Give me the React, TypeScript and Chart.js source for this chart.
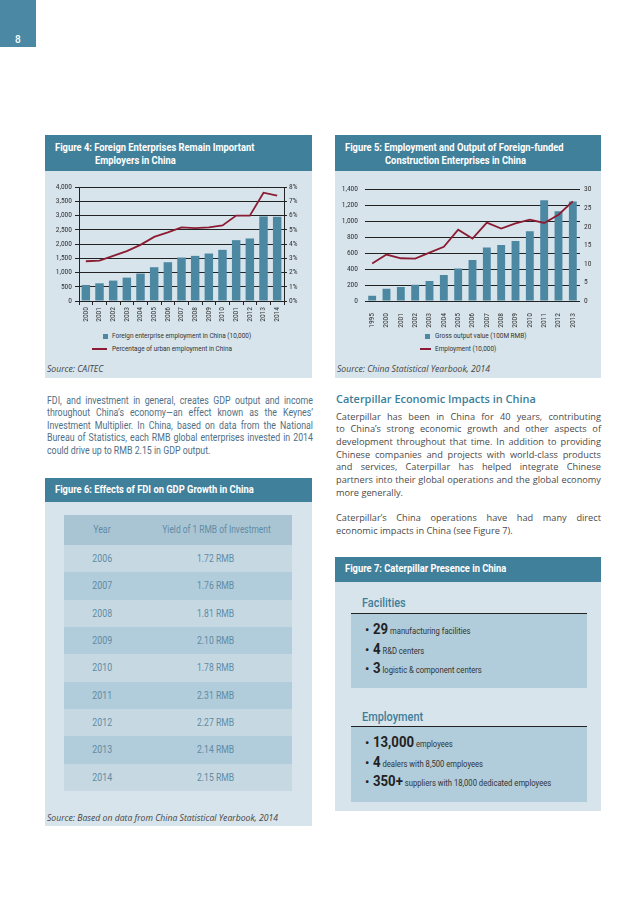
import React, { useEffect, useRef } from "react";
import { Chart, registerables } from "chart.js";
Chart.register(...registerables);

// ---------- DATA ----------
const fig4Years = ["2000", "2001", "2002", "2003", "2004", "2005", "2006", "2007", "2008", "2009", "2010", "2001", "2012", "2013", "2014"];
const fig4Employment = [563, 621, 716, 821, 962, 1185, 1361, 1525, 1584, 1666, 1795, 2135, 2194, 2968, 2956];
const fig4UrbanPct = [2.79, 2.84, 3.17, 3.5, 3.94, 4.5, 4.81, 5.16, 5.12, 5.16, 5.3, 5.99, 5.99, 7.6, 7.39];

const fig5Years = ["1995", "2000", "2001", "2002", "2003", "2004", "2005", "2006", "2007", "2008", "2009", "2010", "2011", "2012", "2013"];
const fig5Output = [65, 155, 176, 205, 250, 327, 409, 516, 671, 704, 753, 876, 1265, 1126, 1248];
const fig5Employment = [10.1, 12.5, 11.5, 11.4, 13.0, 14.6, 19.2, 16.8, 21.1, 19.5, 20.9, 21.9, 21.0, 23.2, 26.8];

const fig6Years = ["2006", "2007", "2008", "2009", "2010", "2011", "2012", "2013", "2014"];
const fig6Yield = ["1.72 RMB", "1.76 RMB", "1.81 RMB", "2.10 RMB", "1.78 RMB", "2.31 RMB", "2.27 RMB", "2.14 RMB", "2.15 RMB"];

// ---------- STYLE ----------
const HEADER = "#41809b";
const BOX = "#d7e4eb";
const BAR = "#4d88a3";
const RED = "#8c1c33";
const AXIS = "#222";
const TICKFONT = { family: "'Liberation Sans Narrow', 'Roboto Condensed', Roboto, sans-serif", size: 7.5 };
const TICKCOLOR = "#333";

const fmt = (v: any) => Number(v).toLocaleString("en-US");

function fig4Config(): any {
  return {
    type: "bar",
    data: {
      labels: fig4Years,
      datasets: [
        { type: "line", data: fig4UrbanPct, yAxisID: "y1", borderColor: RED, borderWidth: 1.8, pointRadius: 0, tension: 0, order: 1 },
        { type: "bar", data: fig4Employment, yAxisID: "y", backgroundColor: BAR, barPercentage: 0.62, categoryPercentage: 1, order: 2 },
      ],
    },
    options: {
      responsive: false,
      animation: false,
      layout: { padding: { top: 9, left: 0, right: 0, bottom: 0 } },
      plugins: { legend: { display: false }, tooltip: { enabled: false } },
      scales: {
        x: {
          grid: { drawOnChartArea: false, drawTicks: true, tickLength: 4, color: AXIS },
          border: { display: true, color: AXIS },
          ticks: { minRotation: 90, maxRotation: 90, autoSkip: false, padding: 2, font: TICKFONT, color: TICKCOLOR },
          afterFit: (s: any) => { s.height = 27; },
        },
        y: {
          position: "left",
          min: 0, max: 4000,
          ticks: { stepSize: 500, padding: 3, font: TICKFONT, color: TICKCOLOR, callback: fmt },
          grid: { color: AXIS, tickLength: 4 },
          border: { display: true, color: AXIS },
          afterFit: (s: any) => { s.width = 34; },
        },
        y1: {
          position: "right",
          min: 0, max: 8,
          ticks: { stepSize: 1, padding: 2, font: TICKFONT, color: TICKCOLOR, callback: (v: any) => v + "%" },
          grid: { drawOnChartArea: false, tickLength: 3, color: AXIS },
          border: { display: true, color: AXIS },
          afterFit: (s: any) => { s.width = 28; },
        },
      },
    },
  };
}

function fig5Config(): any {
  return {
    type: "bar",
    data: {
      labels: fig5Years,
      datasets: [
        { type: "line", data: fig5Employment, yAxisID: "y1", borderColor: RED, borderWidth: 1.8, pointRadius: 0, tension: 0, order: 1 },
        { type: "bar", data: fig5Output, yAxisID: "y", backgroundColor: BAR, barPercentage: 0.55, categoryPercentage: 1, order: 2 },
      ],
    },
    options: {
      responsive: false,
      animation: false,
      layout: { padding: { top: 9, left: 0, right: 0, bottom: 0 } },
      plugins: { legend: { display: false }, tooltip: { enabled: false } },
      scales: {
        x: {
          grid: { display: false },
          border: { display: false },
          ticks: { minRotation: 90, maxRotation: 90, autoSkip: false, padding: 4, font: TICKFONT, color: TICKCOLOR },
          afterFit: (s: any) => { s.height = 27; },
        },
        y: {
          position: "left",
          min: 0, max: 1400,
          ticks: { stepSize: 200, padding: 7, font: TICKFONT, color: TICKCOLOR, callback: fmt },
          grid: { color: AXIS, drawTicks: false },
          border: { display: false },
          afterFit: (s: any) => { s.width = 30; },
        },
        y1: {
          position: "right",
          min: 0, max: 30,
          ticks: { stepSize: 5, padding: 4, font: TICKFONT, color: TICKCOLOR },
          grid: { drawOnChartArea: false, drawTicks: false },
          border: { display: false },
          afterFit: (s: any) => { s.width = 21; },
        },
      },
    },
  };
}

function ChartBox({ make, left, top, width, height }: any) {
  const ref = useRef<HTMLCanvasElement>(null);
  useEffect(() => {
    const c = new Chart(ref.current as HTMLCanvasElement, make());
    return () => c.destroy();
  }, []);
  return (
    <div style={{ position: "absolute", left, top, width, height }}>
      <canvas ref={ref} width={width} height={height} style={{ width, height, display: "block" }} />
    </div>
  );
}

// text helper: y is vertical centre
function T({ x, y, size, sx = 1, color = "#333", weight = 400, italic = false, family = "Roboto, sans-serif", children, lh }: any) {
  const lineH = lh || Math.round(size * 1.25);
  return (
    <div
      style={{
        position: "absolute",
        left: x,
        top: y - lineH / 2,
        fontSize: size,
        lineHeight: lineH + "px",
        color,
        fontWeight: weight,
        fontStyle: italic ? "italic" : "normal",
        fontFamily: family,
        whiteSpace: "nowrap",
        transform: `scaleX(${sx})`,
        transformOrigin: "0 0",
      }}
    >
      {children}
    </div>
  );
}

function Para({ x, y, w, lh, size, sx, color, family, lines, lastJustify = [] }: any) {
  return (
    <div style={{ position: "absolute", left: x, top: y, width: w / sx, transform: `scaleX(${sx})`, transformOrigin: "0 0", fontSize: size, lineHeight: lh + "px", color, fontFamily: family }}>
      {lines.map((l: string, i: number) =>
        l === "" ? (
          <div key={i} style={{ height: lh }} />
        ) : (
          <div key={i} style={{ textAlign: lastJustify[i] ? "justify" : "left", textAlignLast: lastJustify[i] ? "justify" : "left", whiteSpace: lastJustify[i] ? "normal" : "nowrap" } as any}>
            {l}
          </div>
        )
      )}
    </div>
  );
}

const rect = (left: number, top: number, width: number, height: number, background: string, extra: any = {}) => (
  <div style={{ position: "absolute", left, top, width, height, background, ...extra }} />
);

const HFONT = "Roboto, sans-serif";
const HS = 11; // header font size
const HSX = 0.85; // header condense
const SRC = { size: 9, sx: 0.96, italic: true, color: "#444", family: "'Open Sans', sans-serif" };
const LEG = { size: 7, sx: 0.92, color: "#333" };
const TBL = "#5f8ba4";

export default function App() {
  const leftLines = [
    "FDI, and investment in general, creates GDP output and income",
    "throughout China’s economy—an effect known as the Keynes’",
    "Investment Multiplier. In China, based on data from the National",
    "Bureau of Statistics, each RMB global enterprises invested in 2014",
    "could drive up to RMB 2.15 in GDP output.",
  ];
  const rightLines = [
    "Caterpillar has been in China for 40 years, contributing",
    "to China’s strong economic growth and other aspects of",
    "development throughout that time. In addition to providing",
    "Chinese companies and projects with world-class products",
    "and services, Caterpillar has helped integrate Chinese",
    "partners into their global operations and the global economy",
    "more generally.",
    "",
    "Caterpillar’s China operations have had many direct",
    "economic impacts in China (see Figure 7).",
  ];
  const rowH = 27.33;
  const items1 = [
    ["29", "manufacturing facilities", 630],
    ["4", "R&D centers", 650],
    ["3", "logistic & component centers", 669],
  ];
  const items2 = [
    ["13,000", "employees", 743],
    ["4", "dealers with 8,500 employees", 763],
    ["350+", "suppliers with 18,000 dedicated employees", 782],
  ];
  const renderItems = (items: any[]) =>
    items.map(([n, t, y]: any) => (
      <React.Fragment key={t}>
        <T x={365} y={y} size={13} color="#222" lh={14}>•</T>
        <T x={373} y={y - 1} size={15.5} sx={0.85} color="#222" weight={700} lh={16}>
          {n}
          <span style={{ fontSize: 9, fontWeight: 400, color: "#333" }}> {t}</span>
        </T>
      </React.Fragment>
    ));
  const cell = (left: number, top: number, width: number, height: number, text: string, sx: number, key?: any) => (
    <div key={key} style={{ position: "absolute", left, top, width, height, lineHeight: height + "px", textAlign: "center", color: TBL, fontSize: 10, fontWeight: 400 }}>
      <span style={{ display: "inline-block", transform: `scaleX(${sx})` }}>{text}</span>
    </div>
  );
  return (
    <div style={{ position: "absolute", left: 0, top: 0, width: 638, height: 903, background: "#fff", overflow: "hidden", fontFamily: HFONT }}>
      {/* page tab */}
      {rect(0, 0, 36, 47, "#4a88a3")}
      <T x={15} y={39} size={10} color="#fff" weight={500}>8</T>

      {/* Figure 4 */}
      {rect(45, 135, 267, 36, HEADER)}
      {rect(45, 171, 267, 207, BOX)}
      <T x={55} y={148} size={HS} sx={HSX} color="#fff" weight={700}>Figure 4: Foreign Enterprises Remain Important</T>
      <T x={95} y={161} size={HS} sx={HSX} color="#fff" weight={700}>Employers in China</T>
      <ChartBox make={fig4Config} left={45} top={178} width={267} height={150} />
      {rect(103, 334, 5, 5, BAR)}
      <T x={112} y={336.5} {...LEG}>Foreign enterprise employment in China (10,000)</T>
      {rect(92, 348, 15, 2, RED)}
      <T x={112} y={349} {...LEG}>Percentage of urban employment in China</T>
      <T x={47} y={368} {...SRC}>Source: CAITEC</T>

      {/* Figure 5 */}
      {rect(335, 135, 266, 36, HEADER)}
      {rect(335, 171, 266, 207, BOX)}
      <T x={345} y={148} size={HS} sx={HSX} color="#fff" weight={700}>Figure 5: Employment and Output of Foreign-funded</T>
      <T x={385} y={161} size={HS} sx={HSX} color="#fff" weight={700}>Construction Enterprises in China</T>
      <ChartBox make={fig5Config} left={335} top={178} width={266} height={150} />
      {rect(425, 334, 5, 5, BAR)}
      <T x={435} y={336.5} {...LEG}>Gross output value (100M RMB)</T>
      {rect(420, 348, 11, 2, RED)}
      <T x={435} y={349} {...LEG}>Employment (10,000)</T>
      <T x={337} y={368} {...SRC}>Source: China Statistical Yearbook, 2014</T>

      {/* Left paragraph */}
      <Para x={47} y={394.5} w={266} lh={12.5} size={10} sx={0.88} color="#4f6f86" family={HFONT} lines={leftLines} lastJustify={[true, true, true, true, false]} />

      {/* Figure 6 */}
      {rect(45, 478, 267, 24, HEADER)}
      {rect(45, 502, 267, 324, BOX)}
      <T x={55} y={490} size={HS} sx={HSX} color="#fff" weight={700}>Figure 6: Effects of FDI on GDP Growth in China</T>
      {rect(64, 515, 228, 30, "#a9c5d4")}
      {cell(64, 515, 76, 30, "Year", 0.88)}
      {cell(140, 515, 152, 30, "Yield of 1 RMB of Investment", 0.84)}
      {fig6Years.map((yr, i) => (
        <React.Fragment key={yr}>
          {rect(64, 545 + i * rowH, 228, rowH + 0.5, i % 2 === 0 ? "#c6d9e3" : "#b1ccda")}
          {cell(64, 545 + i * rowH, 76, rowH, yr, 0.88)}
          {cell(140, 545 + i * rowH, 152, rowH, fig6Yield[i], 0.86)}
        </React.Fragment>
      ))}
      <T x={47} y={817} {...SRC}>Source: Based on data from China Statistical Yearbook, 2014</T>

      {/* Right column text */}
      <T x={336} y={399} size={11.5} sx={0.95} color="#3d7e9a" weight={600} family="'Open Sans', sans-serif">Caterpillar Economic Impacts in China</T>
      <Para x={336} y={410.5} w={265} lh={12.7} size={9.5} sx={0.97} color="#4a4a4a" family="'Open Sans', sans-serif" lines={rightLines} lastJustify={[true, true, true, true, true, true, false, false, true, false]} />

      {/* Figure 7 */}
      {rect(335, 557, 266, 25, HEADER)}
      {rect(335, 582, 266, 229, BOX)}
      <T x={345} y={569} size={HS} sx={HSX} color="#fff" weight={700}>Figure 7: Caterpillar Presence in China</T>

      <T x={362} y={603} size={13} sx={0.84} color="#3d7e9a" weight={500}>Facilities</T>
      {rect(351, 613, 236, 1, "#222")}
      {rect(351, 614, 236, 74, "#b1ccda")}
      {renderItems(items1)}

      <T x={362} y={717} size={13} sx={0.84} color="#3d7e9a" weight={500}>Employment</T>
      {rect(351, 726, 236, 1, "#222")}
      {rect(351, 727, 236, 75, "#b1ccda")}
      {renderItems(items2)}
    </div>
  );
}
